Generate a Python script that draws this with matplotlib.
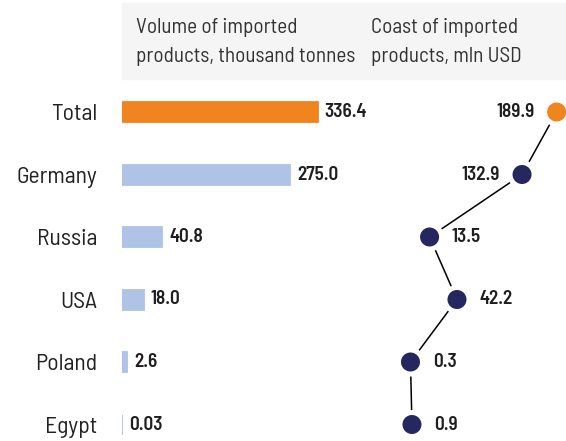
import numpy as np
import matplotlib
matplotlib.use("Agg")
from matplotlib import pyplot as plt
from matplotlib.patches import Rectangle

# import structure by country
countries = ["Total", "Germany", "Russia", "USA", "Poland", "Egypt"]
volume = [336.4, 275.0, 40.8, 18.0, 2.6, 0.03]
volume_labels = ["336.4", "275.0", "40.8", "18.0", "2.6", "0.03"]
cost = [189.9, 132.9, 13.5, 42.2, 0.3, 0.9]
cost_labels = ["189.9", "132.9", "13.5", "42.2", "0.3", "0.9"]
header_volume = "Volume of imported\nproducts, thousand tonnes"
header_cost = "Coast of imported\nproducts, mln USD"

ORANGE = "#F0841F"
LIGHTBLUE = "#AEC3E6"
NAVY = "#25275F"
TXT = "#1E1E1E"

plt.rcParams["font.family"] = ["Barlow Semi Condensed", "Roboto Condensed", "DejaVu Sans"]

W, H = 566, 441
fig = plt.figure(figsize=(W / 100, H / 100), dpi=100)


def px_axes(x0, x1, y0, y1):
    # box in pixels, origin top left
    return fig.add_axes([x0 / W, 1 - y1 / H, (x1 - x0) / W, (y1 - y0) / H])


# compressed power scale so the small values stay visible
p = 0.75
fwd = lambda v: np.sign(v) * np.abs(v) ** p
inv = lambda v: np.sign(v) * np.abs(v) ** (1 / p)

rows = np.arange(len(countries))
ytop, ybot = (82 - 112) / 62.5, (441 - 112) / 62.5

# header band
fig.patches.append(Rectangle((121.7 / W, 1 - 78.5 / H), 1, 75.5 / H,
                             transform=fig.transFigure, color="#F5F5F5", zorder=0))
for x0, txt in [(136, header_volume), (371, header_cost)]:
    fig.text(x0 / W, 1 - 42 / H, txt, fontsize=15.2, color="#333333",
             va="center", ha="left", linespacing=1.62)

# left: volume bars
ax1 = px_axes(122, 322, 82, 441)
ax1.set_xscale("function", functions=(fwd, inv))
colors = [ORANGE] + [LIGHTBLUE] * (len(countries) - 1)
ax1.barh(rows, volume, height=0.32, color=colors, edgecolor=colors, linewidth=1.3)
for i, (v, lab) in enumerate(zip(volume, volume_labels)):
    ax1.annotate(lab, (v, i), xytext=(5, 0), textcoords="offset points",
                 va="center", ha="left", fontsize=13.8, fontweight="semibold", color=TXT)
ax1.set_xlim(0, (200 / 2.49) ** (1 / p))
ax1.set_ylim(ybot, ytop)
ax1.set_yticks(rows, countries)
ax1.tick_params(axis="y", length=0, pad=18, labelsize=17, labelcolor="#222222")
ax1.set_xticks([])
for s in ax1.spines.values():
    s.set_visible(False)
ax1.patch.set_alpha(0)

# right: cost dots joined by a line
ax2 = px_axes(409.3, 566, 82, 441)
ax2.set_xscale("function", functions=(fwd, inv))
xmax = (156.7 / 2.88) ** (1 / p)
ax2.plot(cost, rows, color="black", lw=1.1, zorder=1, clip_on=False)
dot_colors = [ORANGE] + [NAVY] * (len(countries) - 1)
ax2.scatter(cost, rows, s=17.3 ** 2, c=dot_colors, edgecolors="white",
            linewidths=3.6, zorder=2, clip_on=False)
for i, (v, lab) in enumerate(zip(cost, cost_labels)):
    left = fwd(v) / fwd(xmax) > 0.5
    ax2.annotate(lab, (v, i), xytext=(-16 if left else 16, 0),
                 textcoords="offset points", va="center",
                 ha="right" if left else "left", fontsize=13.8,
                 fontweight="semibold", color=TXT)
ax2.set_xlim(0, xmax)
ax2.set_ylim(ybot, ytop)
ax2.set_xticks([])
ax2.set_yticks([])
for s in ax2.spines.values():
    s.set_visible(False)
ax2.patch.set_alpha(0)

fig.savefig("out.png", dpi=100)
